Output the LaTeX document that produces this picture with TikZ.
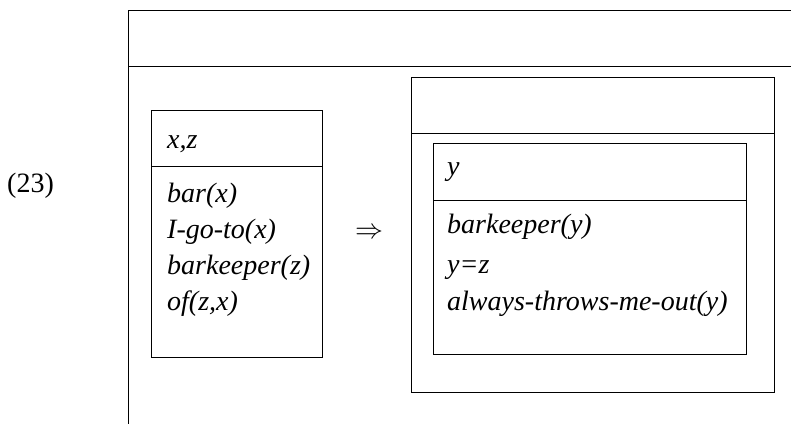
\documentclass[tikz,border=0pt]{standalone}
\usepackage{fontspec}
\setmainfont{Liberation Serif}
\newcommand\drsfont{\fontsize{28}{33}\selectfont}
\begin{document}
\begin{tikzpicture}[x=1pt,y=-1pt,
  drsbox/.style={draw, line width=0.9pt, inner sep=0pt, outer sep=0pt, anchor=north west},
  cond/.style={anchor=base west, inner sep=0pt, font=\drsfont\itshape},
  plain/.style={inner sep=0pt, font=\drsfont}]
  \useasboundingbox (0,0) rectangle (791,423);
  \clip (0,0) rectangle (791,423);

  % outer box, running past the page edge
  \node[drsbox, line width=1pt, minimum width=700pt, minimum height=460pt] (outer) at (128,10) {};
  \draw[line width=1pt] (outer.west |- 0,66) -- (outer.east |- 0,66);

  % example number
  \node[plain, anchor=base west] (num) at (7,192) {(23)};

  % antecedent box
  \node[drsbox, minimum width=171pt, minimum height=247pt] (lbox) at (151,110) {};
  \draw[line width=0.9pt] (lbox.west |- 0,166) -- (lbox.east |- 0,166);
  \node[cond] (lu) at (167,148) {x,z};
  \node[cond] (l1) at (167,202) {bar(x)};
  \node[cond] (l2) at (167,238) {I-go-to(x)};
  \node[cond] (l3) at (167,274) {barkeeper(z)};
  \node[cond] (l4) at (167,310) {of(z,x)};

  % implication
  \node[plain, anchor=center] (imp) at (369,233) {\resizebox{28pt}{!}{$\Rightarrow$}};

  % consequent box
  \node[drsbox, minimum width=363pt, minimum height=315pt] (rbox) at (411,77) {};
  \draw[line width=0.9pt] (rbox.west |- 0,133) -- (rbox.east |- 0,133);

  % nested box
  \node[drsbox, minimum width=313pt, minimum height=211pt] (ibox) at (433,143) {};
  \draw[line width=0.9pt] (ibox.west |- 0,200) -- (ibox.east |- 0,200);
  \node[cond] (iu) at (447,175) {y};
  \node[cond] (i1) at (447,233) {barkeeper(y)};
  \node[cond] (i2) at (447,273) {y=z};
  \node[cond] (i3) at (447,310) {always-throws-me-out(y)};
\end{tikzpicture}
\end{document}
